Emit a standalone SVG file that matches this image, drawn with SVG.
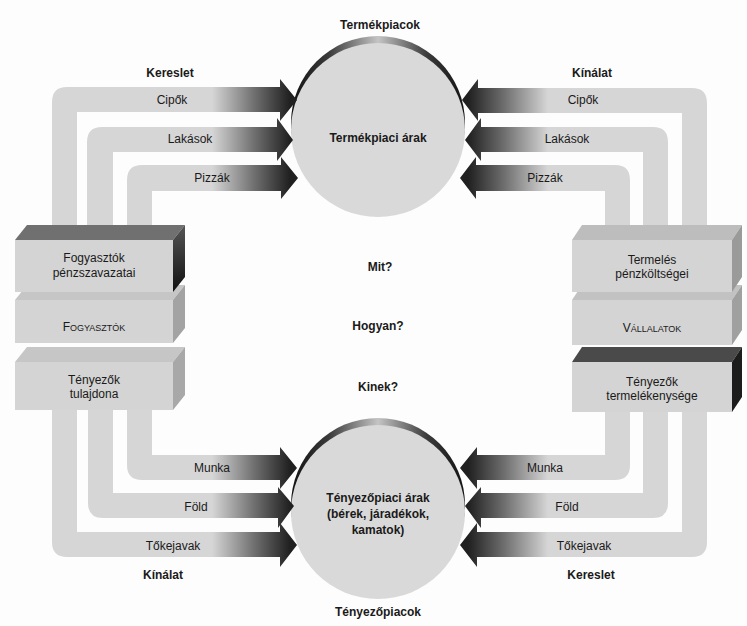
<svg xmlns="http://www.w3.org/2000/svg" width="747" height="626" viewBox="0 0 747 626">
<defs>
<style>
text{font-family:"Liberation Sans",Arial,sans-serif;font-size:12px;fill:#1a1a1a;text-anchor:middle}
.b{font-weight:bold}
.sm{font-size:9px}
.band{stroke:none}
</style>
<linearGradient id="gL" gradientUnits="userSpaceOnUse" x1="212" y1="0" x2="290" y2="0">
<stop offset="0" stop-color="#d6d6d6"/><stop offset="0.55" stop-color="#6e6e6e"/><stop offset="1" stop-color="#202020"/>
</linearGradient>
<linearGradient id="gR" gradientUnits="userSpaceOnUse" x1="548" y1="0" x2="468" y2="0">
<stop offset="0" stop-color="#d6d6d6"/><stop offset="0.55" stop-color="#6e6e6e"/><stop offset="1" stop-color="#202020"/>
</linearGradient>
<linearGradient id="gArc" gradientUnits="userSpaceOnUse" x1="290" y1="0" x2="466" y2="0">
<stop offset="0" stop-color="#111"/><stop offset="0.22" stop-color="#3a3a3a"/><stop offset="0.5" stop-color="#c4c4c4"/><stop offset="0.78" stop-color="#3a3a3a"/><stop offset="1" stop-color="#111"/>
</linearGradient>
<linearGradient id="gSideDark" x1="0" y1="0" x2="0" y2="1">
<stop offset="0" stop-color="#555"/><stop offset="1" stop-color="#111"/>
</linearGradient>
</defs>
<rect width="747" height="626" fill="#fdfdfd"/>

<g id="termekpiac">
<circle cx="378" cy="123" r="87" fill="url(#gArc)"/>
<circle cx="378" cy="130" r="87" fill="#d9d9d9"/>
<text class="b" x="380" y="29">Termékpiacok</text>
<text class="b" x="378" y="142">Termékpiaci árak</text>
</g>

<g id="tenyezopiac">
<circle cx="378" cy="505" r="87" fill="url(#gArc)"/>
<circle cx="378" cy="512" r="87" fill="#d9d9d9"/>
<text class="b" x="378" y="502">Tényezőpiaci árak</text>
<text class="b" x="378" y="518">(bérek, járadékok,</text>
<text class="b" x="378" y="534">kamatok)</text>
<text class="b" x="378" y="616">Tényezőpiacok</text>
</g>

<g id="connectors">
<path class="band" fill="url(#gL)" d="M297,100 L280,79 L280,87 L67,87 Q52,87 52,102 L52,236 L77,236 L77,112 L280,112 L280,121 Z"/>
<path class="band" fill="url(#gL)" d="M293,140 L277,118 L277,127 L102,127 Q87,127 87,142 L87,236 L113,236 L113,152 L277,152 L277,161 Z"/>
<path class="band" fill="url(#gL)" d="M298,178 L281,157 L281,165 L142,165 Q127,165 127,180 L127,236 L152,236 L152,191 L281,191 L281,199 Z"/>
<path class="band" fill="url(#gR)" d="M462,100 L478,79 L478,88 L692,88 Q707,88 707,103 L707,236 L682,236 L682,113 L478,113 L478,121 Z"/>
<path class="band" fill="url(#gR)" d="M465,140 L481,118 L481,127 L653,127 Q668,127 668,142 L668,236 L643,236 L643,152 L481,152 L481,161 Z"/>
<path class="band" fill="url(#gR)" d="M460,178 L476,157 L476,165 L615,165 Q630,165 630,180 L630,236 L605,236 L605,191 L476,191 L476,199 Z"/>
<path class="band" fill="url(#gL)" d="M297,468 L280,447 L280,455 L152,455 L152,400 L127,400 L127,465 Q127,480 142,480 L280,480 L280,489 Z"/>
<path class="band" fill="url(#gL)" d="M294,506 L278,487 L278,493 L113,493 L113,400 L88,400 L88,503 Q88,518 103,518 L278,518 L278,528 Z"/>
<path class="band" fill="url(#gL)" d="M297,545 L280,523 L280,532 L77,532 L77,400 L52,400 L52,542 Q52,557 67,557 L280,557 L280,567 Z"/>
<path class="band" fill="url(#gR)" d="M460,468 L477,447 L477,455 L605,455 L605,400 L630,400 L630,465 Q630,480 615,480 L477,480 L477,489 Z"/>
<path class="band" fill="url(#gR)" d="M465,506 L481,487 L481,493 L643,493 L643,400 L668,400 L668,503 Q668,518 653,518 L481,518 L481,528 Z"/>
<path class="band" fill="url(#gR)" d="M460,545 L477,523 L477,532 L682,532 L682,400 L707,400 L707,542 Q707,557 692,557 L477,557 L477,567 Z"/>
<text class="b" x="170" y="77">Kereslet</text>
<text x="172" y="104">Cipők</text>
<text x="190" y="143">Lakások</text>
<text x="212" y="182">Pizzák</text>
<text class="b" x="592" y="77">Kínálat</text>
<text x="583" y="104">Cipők</text>
<text x="567" y="143">Lakások</text>
<text x="545" y="182">Pizzák</text>
<text x="212" y="472">Munka</text>
<text x="196" y="511">Föld</text>
<text x="173" y="550">Tőkejavak</text>
<text class="b" x="163" y="579">Kínálat</text>
<text x="545" y="472">Munka</text>
<text x="567" y="511">Föld</text>
<text x="584" y="550">Tőkejavak</text>
<text class="b" x="591" y="579">Kereslet</text>
</g>

<g id="questions">
<text class="b" x="380" y="271">Mit?</text>
<text class="b" x="378" y="330">Hogyan?</text>
<text class="b" x="378" y="391">Kinek?</text>
</g>

<g id="tenyezok-tulajdona">
<polygon points="15,362 27,347 185,347 173,362" fill="#c6c6c6"/>
<polygon points="173,362 185,347 185,395 173,410" fill="#a8a8a8"/>
<rect x="15" y="362" width="158" height="48" fill="#d4d4d4"/>
<text x="94" y="384">Tényezők</text>
<text x="94" y="398">tulajdona</text>
</g>
<g id="fogyasztok">
<polygon points="15,300 27,285 185,285 173,300" fill="#c6c6c6"/>
<polygon points="173,300 185,285 185,328 173,343" fill="#a3a3a3"/>
<rect x="15" y="300" width="158" height="43" fill="#d4d4d4"/>
<text x="94" y="331">F<tspan class="sm">OGYASZTÓK</tspan></text>
</g>
<g id="penzszavazatai">
<polygon points="15,240 27,225 185,225 173,240" fill="#707070"/>
<polygon points="173,240 185,225 185,277 173,292" fill="url(#gSideDark)"/>
<rect x="15" y="240" width="158" height="52" fill="#d4d4d4"/>
<text x="94" y="262">Fogyasztók</text>
<text x="94" y="277">pénzszavazatai</text>
</g>

<g id="tenyezok-termelekenysege">
<polygon points="572,362 582,347 742,347 732,362" fill="#4a4a4a"/>
<polygon points="732,362 742,347 742,397 732,412" fill="#1c1c1c"/>
<rect x="572" y="362" width="160" height="50" fill="#d4d4d4"/>
<text x="652" y="386">Tényezők</text>
<text x="652" y="400">termelékenysége</text>
</g>
<g id="vallalatok">
<polygon points="572,300 582,285 742,285 732,300" fill="#c2c2c2"/>
<polygon points="732,300 742,285 742,330 732,345" fill="#a0a0a0"/>
<rect x="572" y="300" width="160" height="45" fill="#d4d4d4"/>
<text x="652" y="332">V<tspan class="sm">ÁLLALATOK</tspan></text>
</g>
<g id="penzkoltsegei">
<polygon points="572,240 582,225 742,225 732,240" fill="#bdbdbd"/>
<polygon points="732,240 742,225 742,277 732,292" fill="#9a9a9a"/>
<rect x="572" y="240" width="160" height="52" fill="#d4d4d4"/>
<text x="652" y="264">Termelés</text>
<text x="652" y="278">pénzköltségei</text>
</g>
</svg>
